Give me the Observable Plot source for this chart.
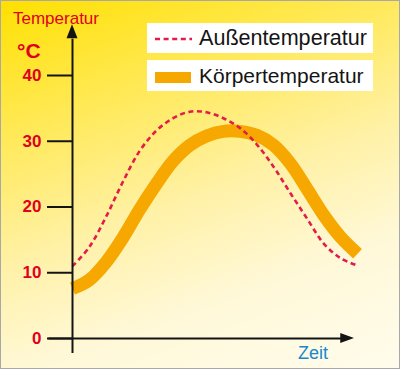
<!DOCTYPE html>
<html><head><meta charset="utf-8">
<script src="https://cdn.jsdelivr.net/npm/d3@7"></script>
<script src="https://cdn.jsdelivr.net/npm/@observablehq/plot@0.6"></script>
<style>
html,body{margin:0;padding:0;background:#fff;}
#chart{position:relative;width:400px;height:369px;}
</style></head><body><div id="chart"></div>
<script>
// ---- data ----
const time = [0,1,2,3,4,5,6,7,8,9,10,11,12,13,14,15,16,17];
const aussen = [11.0,13.9,18.5,23.8,28.5,31.6,33.5,34.5,34.4,33.5,32.0,29.5,26.1,22.1,18.2,14.4,12.2,11.1];
const koerper = [7.6,8.9,11.6,15.3,19.6,23.5,27.0,29.4,30.8,31.5,31.5,30.9,29.4,26.6,22.7,18.7,15.4,12.9];
const yTicks = [0,10,20,30,40];
const seriesNames = ["Außentemperatur","Körpertemperatur"];
const yLabel = "Temperatur";
const yUnit = "°C";
const xLabel = "Zeit";

const FONT = "'Liberation Sans', Arial, Helvetica, sans-serif";
const RED = "#e0001f";
const ORANGE = "#f6a800";
const DASH = "#e31b4b";
const INK = "#141414";

const rowsA = time.map((t,i)=>({t, v: aussen[i]}));
const rowsK = time.map((t,i)=>({t, v: koerper[i]}));

const plot = Plot.plot({
  width: 400,
  height: 369,
  margin: 0,
  x: {domain: [0, 17], range: [72, 357], axis: null},
  y: {domain: [0, 40], range: [338, 75], axis: null},
  style: {
    background: "linear-gradient(160deg, #ffe000 0%, #ffe84e 24%, #fff1a6 52%, #fff8d8 74%, #fffcec 100%)",
    fontFamily: FONT,
    overflow: "visible"
  },
  marks: [
    Plot.line(rowsK, {x: "t", y: "v", curve: "catmull-rom", stroke: ORANGE, strokeWidth: 13, strokeLinecap: "butt", strokeLinejoin: "round"}),
    Plot.line(rowsA, {x: "t", y: "v", curve: "catmull-rom", stroke: DASH, strokeWidth: 2.6, strokeDasharray: "5,3.6", strokeLinecap: "butt"}),
    Plot.ruleY(yTicks, {y: d => d, x1: -1.49, x2: 0, stroke: INK, strokeWidth: 2}),
    Plot.ruleY([0], {y: d => d, x1: -1.4, x2: 16.2, stroke: INK, strokeWidth: 2}),
    Plot.ruleX([0], {x: d => d, y1: -2.3, y2: 45.5, stroke: INK, strokeWidth: 2}),
    Plot.text(yTicks, {y: d => d, x: -1.85, text: d => String(d), textAnchor: "end", fill: RED, fontWeight: "bold", fontSize: 17, fontFamily: FONT})
  ]
});

document.getElementById("chart").appendChild(plot);

const svg = d3.select(plot);
const xs = plot.scale("x"), ys = plot.scale("y");
const x0 = xs.apply(0), y0 = ys.apply(0);

// arrow heads
const yTip = ys.apply(47.7), yBase = ys.apply(45.6);
svg.append("polygon")
  .attr("points", `${x0},${yTip} ${x0-5.5},${yBase} ${x0+5.5},${yBase}`)
  .attr("fill", INK);
const xTip = xs.apply(16.82), xBase = xs.apply(16.0);
svg.append("polygon")
  .attr("points", `${xTip},${y0} ${xBase},${y0-5} ${xBase},${y0+5}`)
  .attr("fill", INK);

function addText(g, str, x, y, size, fill, weight) {
  return g.append("text").text(str)
    .attr("x", x).attr("y", y)
    .attr("text-anchor", "start")
    .attr("font-family", FONT).attr("font-size", size)
    .attr("font-weight", weight || "normal")
    .attr("fill", fill);
}

// axis labels
addText(svg, yLabel, 13, 24, 17, RED);
addText(svg, yUnit, 17, 58, 21, RED, "bold");
addText(svg, xLabel, 298, 359, 18, "#1688cf");

// legend
const lg = svg.append("g");
lg.append("rect").attr("x", 147).attr("y", 23).attr("width", 226).attr("height", 30).attr("fill", "#fff");
lg.append("rect").attr("x", 147).attr("y", 60).attr("width", 226).attr("height", 31).attr("fill", "#fff");
lg.append("line").attr("x1", 155).attr("x2", 192).attr("y1", 39).attr("y2", 39)
  .attr("stroke", DASH).attr("stroke-width", 2.6).attr("stroke-dasharray", "5,3.6");
lg.append("rect").attr("x", 155).attr("y", 72).attr("width", 36).attr("height", 11).attr("fill", ORANGE);
addText(lg, seriesNames[0], 199, 45, 21.6, INK);
addText(lg, seriesNames[1], 199, 83, 21, INK);

// frame border
svg.append("rect").attr("x", 0.5).attr("y", 0.5).attr("width", 399).attr("height", 368)
  .attr("fill", "none").attr("stroke", "#a8a8a8").attr("stroke-width", 1);
</script>
</body></html>
